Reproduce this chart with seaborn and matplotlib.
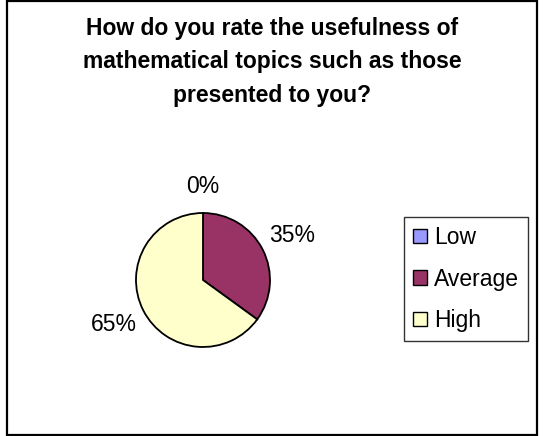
import matplotlib
matplotlib.use("Agg")
import matplotlib.pyplot as plt
import matplotlib.patches as mpatches
import seaborn as sns

sns.set_theme(style="white")
plt.rcParams['font.family'] = ['Liberation Sans', 'DejaVu Sans']
plt.rcParams['text.color'] = 'black'

# data
categories = ["Low", "Average", "High"]
shares = [0, 35, 65]
pct_labels = ["0%", "35%", "65%"]
slice_colors = ["#9999FF", "#993366", "#FFFFCC"]
title = "How do you rate the usefulness of\nmathematical topics such as those\npresented to you?"

fig = plt.figure(figsize=(5.44, 4.36), dpi=100)
fig.patch.set_facecolor("white")

# outer chart frame
fig.patches.append(mpatches.Rectangle((0.013, 0.003), 0.975, 0.994, transform=fig.transFigure,
                                      fill=False, edgecolor="black", linewidth=1.6))

fig.text(0.5, 0.858, title, ha="center", va="center", fontsize=16.5, fontweight="bold",
         linespacing=1.58, color="black")

ax = fig.add_axes([0.2192, 0.1657, 0.3079, 0.3842])
wedges, texts = ax.pie(shares, labels=pct_labels, colors=slice_colors, startangle=90,
                       counterclock=False, labeldistance=1.1,
                       wedgeprops=dict(edgecolor="black", linewidth=1.3),
                       textprops=dict(fontsize=16.5, color="black"))
ax.set_xlim(-1.25, 1.25)
ax.set_ylim(-1.25, 1.25)
ax.set_aspect("equal")
# the empty slice label sits centred above the pie
texts[0].set_position((0.0, 1.4))
texts[0].set_ha("center")
texts[1].set_va("bottom")
texts[2].set_va("top")

handles = [mpatches.Patch(facecolor=c, edgecolor="black", linewidth=1.0, label=n)
           for c, n in zip(slice_colors, categories)]
leg = fig.legend(handles=handles, loc="center left", bbox_to_anchor=(0.743, 0.360),
                 fontsize=16.5, frameon=True, fancybox=False, handlelength=0.6,
                 handleheight=0.6, handletextpad=0.3, labelspacing=0.8,
                 borderpad=0.4, borderaxespad=0, labelcolor="black")
leg.get_frame().set_edgecolor("black")
leg.get_frame().set_linewidth(1.0)

fig.savefig("out.png", dpi=100)
